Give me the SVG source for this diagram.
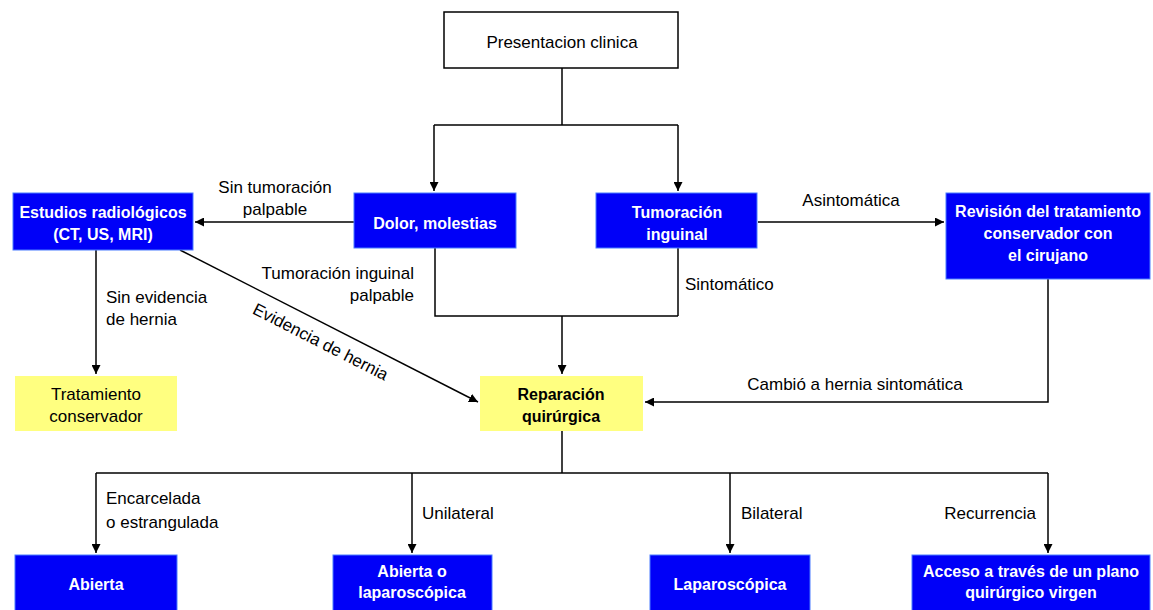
<svg xmlns="http://www.w3.org/2000/svg" width="1153" height="610" viewBox="0 0 1153 610">
<style>
.blue{fill:#0000f8;stroke:#4a7cff;stroke-width:1}
.yel{fill:#ffff80;stroke:none}
.wt{font-family:"Liberation Sans",Arial,sans-serif;font-size:16px;font-weight:bold;fill:#fff;text-anchor:middle}
.bt{font-family:"Liberation Sans",Arial,sans-serif;font-size:16px;font-weight:bold;fill:#000;text-anchor:middle}
.nt{font-family:"Liberation Sans",Arial,sans-serif;font-size:17px;fill:#000;text-anchor:middle}
.lb{font-family:"Liberation Sans",Arial,sans-serif;font-size:17px;fill:#000}
.ln{fill:none;stroke:#000;stroke-width:1.5}
</style>
<defs>
<marker id="ah" viewBox="0 0 10 10" refX="10" refY="5" markerWidth="9" markerHeight="9" markerUnits="userSpaceOnUse" orient="auto">
<path d="M0,0 L10,5 L0,10 z" fill="#000"/>
</marker>
</defs>
<rect width="1153" height="610" fill="#fff"/>
<g id="connectors">
<polyline class="ln" points="562,68 562,125"/>
<polyline class="ln" points="434,125 678,125"/>
<polyline class="ln" points="434,125 434,191" marker-end="url(#ah)"/>
<polyline class="ln" points="678,125 678,191" marker-end="url(#ah)"/>
<polyline class="ln" points="354,222 195,222" marker-end="url(#ah)"/>
<polyline class="ln" points="758,222 944,222" marker-end="url(#ah)"/>
<polyline class="ln" points="435,248 435,316 678,316"/>
<polyline class="ln" points="678,248 678,316"/>
<polyline class="ln" points="562,316 562,374" marker-end="url(#ah)"/>
<polyline class="ln" points="96,250 96,374" marker-end="url(#ah)"/>
<polyline class="ln" points="180,250 478,402" marker-end="url(#ah)"/>
<polyline class="ln" points="1048,279 1048,402 645,402" marker-end="url(#ah)"/>
<polyline class="ln" points="562,431 562,473"/>
<polyline class="ln" points="96,473 1048,473"/>
<polyline class="ln" points="96,473 96,553" marker-end="url(#ah)"/>
<polyline class="ln" points="412,473 412,553" marker-end="url(#ah)"/>
<polyline class="ln" points="730,473 730,553" marker-end="url(#ah)"/>
<polyline class="ln" points="1048,473 1048,553" marker-end="url(#ah)"/>
<text class="nt" x="275" y="193">Sin tumoración</text>
<text class="nt" x="275" y="215">palpable</text>
<text class="lb" x="851" y="206" text-anchor="middle">Asintomática</text>
<text class="lb" x="414" y="279" text-anchor="end">Tumoración inguinal</text>
<text class="lb" x="414" y="301" text-anchor="end">palpable</text>
<text class="lb" x="685" y="290">Sintomático</text>
<text class="lb" x="106" y="303">Sin evidencia</text>
<text class="lb" x="106" y="325">de hernia</text>
<text class="lb" x="0" y="0" text-anchor="middle" transform="translate(318,347) rotate(27)">Evidencia de hernia</text>
<text class="lb" x="855" y="390" text-anchor="middle">Cambió a hernia sintomática</text>
<text class="lb" x="106" y="504">Encarcelada</text>
<text class="lb" x="106" y="528">o estrangulada</text>
<text class="lb" x="422" y="519">Unilateral</text>
<text class="lb" x="741" y="519">Bilateral</text>
<text class="lb" x="1036" y="519" text-anchor="end">Recurrencia</text>
</g>
<g id="presentacion">
<rect x="444" y="12" width="234" height="56" fill="#fff" stroke="#000" stroke-width="1.5"/>
<text class="nt" x="562" y="48">Presentacion clinica</text>
</g>
<g id="estudios">
<rect class="blue" x="13" y="193" width="180" height="57"/>
<text class="wt" x="103" y="218">Estudios radiológicos</text>
<text class="wt" x="103" y="240">(CT, US, MRI)</text>
</g>
<g id="dolor">
<rect class="blue" x="354" y="193" width="162" height="55"/>
<text class="wt" x="435" y="229">Dolor, molestias</text>
</g>
<g id="tumoracion">
<rect class="blue" x="596" y="193" width="161" height="55"/>
<text class="wt" x="677" y="218">Tumoración</text>
<text class="wt" x="677" y="240">inguinal</text>
</g>
<g id="revision">
<rect class="blue" x="946" y="193" width="204" height="86"/>
<text class="wt" x="1048" y="217">Revisión del tratamiento</text>
<text class="wt" x="1048" y="239">conservador con</text>
<text class="wt" x="1048" y="261">el cirujano</text>
</g>
<g id="tratamiento">
<rect class="yel" x="15" y="376" width="162" height="55"/>
<text class="nt" x="96" y="400">Tratamiento</text>
<text class="nt" x="96" y="422">conservador</text>
</g>
<g id="reparacion">
<rect class="yel" x="480" y="376" width="163" height="55"/>
<text class="bt" x="561" y="400">Reparación</text>
<text class="bt" x="561" y="422">quirúrgica</text>
</g>
<g id="abierta">
<rect class="blue" x="15" y="555" width="162" height="60"/>
<text class="wt" x="96" y="590">Abierta</text>
</g>
<g id="abierta-lap">
<rect class="blue" x="333" y="555" width="159" height="60"/>
<text class="wt" x="412" y="577">Abierta o</text>
<text class="wt" x="412" y="598">laparoscópica</text>
</g>
<g id="laparoscopica">
<rect class="blue" x="650" y="555" width="160" height="60"/>
<text class="wt" x="730" y="590">Laparoscópica</text>
</g>
<g id="acceso">
<rect class="blue" x="912" y="555" width="238" height="60"/>
<text class="wt" x="1031" y="577">Acceso a través de un plano</text>
<text class="wt" x="1031" y="598">quirúrgico virgen</text>
</g>
</svg>
